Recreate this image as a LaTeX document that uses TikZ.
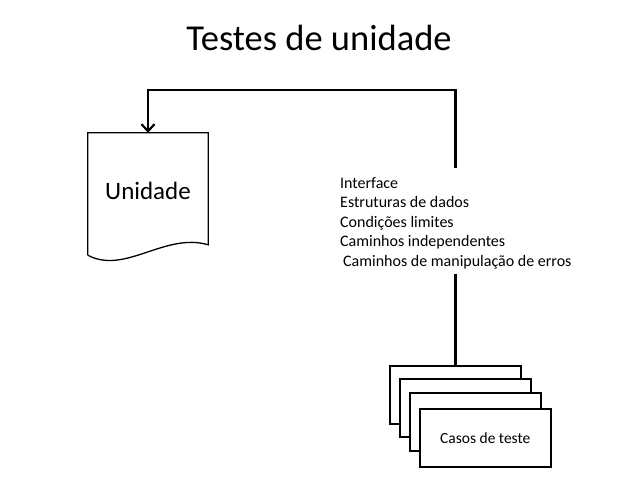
\documentclass[tikz,border=0pt]{standalone}
\usepackage{fontspec}
\setmainfont{Carlito}
\usetikzlibrary{shapes.geometric}
\usetikzlibrary{arrows.meta}

\begin{document}
\begin{tikzpicture}[x=1pt,y=-1pt]
   \useasboundingbox (0,0) rectangle (638,479);

   \node[style={
      font = \fontsize{36.5}{40}\selectfont
   }] (title) at (319,38) {Testes de unidade};

   \node[style={
      draw = none,
      minimum width = 120pt,
      minimum height = 122pt,
      inner sep = 0pt,
      font = \fontsize{25}{28}\selectfont
   }] (unidade) at (148,194) {\raisebox{7pt}{Unidade}};
   \draw[line width = 1.3pt] (unidade.south west) -- (unidade.north west)
      -- (unidade.north east) -- ++(0,112)
      .. controls (165,232) and (125,275) .. (unidade.south west);

   \node[anchor = north west, align = left, style={
      inner sep = 0pt,
      font = \fontsize{16}{19.5}\selectfont
   }] (itens) at (340,177) {Interface\\
      Estruturas de dados\\
      Condições limites\\
      Caminhos independentes\\
      \hspace{3pt}Caminhos de manipulação de erros};

   \foreach \i/\x/\y in {1/389/365, 2/399/378, 3/409/392, 4/419/408}
      \node[anchor = north west, style={
         draw,
         fill = white,
         line width = 1.5pt,
         minimum width = 131pt,
         minimum height = 58pt
      }] (caso\i) at (\x,\y) {};
   \node[font = \fontsize{15.5}{18}\selectfont] (rotulo) at (caso4.center) {Casos de teste};

   \draw[line width = 2.6pt] ([yshift=-5pt]itens.south -| caso1.north) -- (caso1.north);
   \draw[line width = 2.6pt, -{Straight Barb[length=7pt,width=13pt,line width=2.2pt]}]
      ([yshift=9pt]itens.north -| caso1.north) -- ++(0,-78) -| (unidade.north);
\end{tikzpicture}
\end{document}
